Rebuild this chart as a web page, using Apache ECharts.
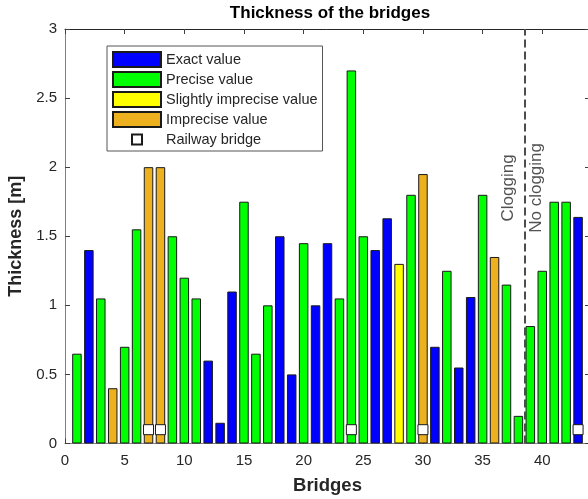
<!DOCTYPE html>
<html>
<head>
<meta charset="utf-8">
<script src="https://cdn.jsdelivr.net/npm/echarts@6/dist/echarts.min.js"></script>
<style>
  body { margin: 0; background: #fff; }
  #chart { width: 588px; height: 499px; }
</style>
</head>
<body>
<div id="chart"></div>
<script>
// bridge numbers and thickness [m] per class
const exactBridges = [2, 12, 13, 14, 18, 19, 21, 22, 26, 27, 31, 33, 34, 43];
const exactValues = [1.40, 0.60, 0.15, 1.10, 1.50, 0.50, 1.00, 1.45, 1.40, 1.63, 0.70, 0.55, 1.06, 1.64];

const preciseBridges = [1, 3, 5, 6, 9, 10, 11, 15, 16, 17, 20, 23, 24, 25, 29, 32, 35, 37, 38, 39, 40, 41, 42];
const preciseValues = [0.65, 1.05, 0.70, 1.55, 1.50, 1.20, 1.05, 1.75, 0.65, 1.00, 1.45, 1.05, 2.70, 1.50, 1.80, 1.25, 1.80, 1.15, 0.20, 0.85, 1.25, 1.75, 1.75];

const slightBridges = [28];
const slightValues = [1.30];

const impreciseBridges = [4, 7, 8, 30, 36];
const impreciseValues = [0.40, 2.00, 2.00, 1.95, 1.35];

const railwayBridges = [7, 8, 24, 30, 43];
const railwayMarkerLevel = 0.1;

const cloggingLimit = 38.5;
const annotations = [
  { name: 'Clogging', x: 37.15, y: 1.85 },
  { name: 'No clogging', x: 39.5, y: 1.85 }
];

const xTicks = { min: 0, max: 44, interval: 5 };
const yTicks = { min: 0, max: 3, interval: 0.5 };

const pairs = (xs, ys) => xs.map((x, i) => [x, ys[i]]);

const textColor = '#262626';
const barEdge = { borderColor: '#1a1a1a', borderWidth: 1 };
// ticks pointing into the plot (matlab style)
const innerTick = { show: true, inside: true, length: 5, lineStyle: { color: '#404040' } };

const barSeries = (name, xs, ys, color) => ({
  name,
  type: 'bar',
  barWidth: 9.5,
  barGap: '-100%',
  itemStyle: Object.assign({ color }, barEdge),
  data: pairs(xs, ys)
});

const chart = echarts.init(document.getElementById('chart'));

const option = {
  animation: false,
  textStyle: { fontFamily: '"Liberation Sans", Arial, sans-serif', color: textColor },
  title: {
    text: 'Thickness of the bridges',
    left: 330,
    top: 5,
    padding: 0,
    textAlign: 'center',
    textStyle: { fontSize: 17, fontWeight: 'bold', color: '#000' }
  },
  legend: {
    orient: 'vertical',
    left: 107,
    top: 46,
    padding: [5, 5, 3, 5],
    itemWidth: 48,
    itemHeight: 15,
    itemGap: 3,
    borderColor: '#555',
    borderWidth: 1,
    backgroundColor: '#fff',
    selectedMode: false,
    textStyle: { fontSize: 14.5, color: textColor },
    data: [
      { name: 'Exact value', icon: 'rect' },
      { name: 'Precise value', icon: 'rect' },
      { name: 'Slightly imprecise value', icon: 'rect' },
      { name: 'Imprecise value', icon: 'rect' },
      { name: 'Railway bridge', icon: 'path://M0,0M15,15M2.5,2.5h10v10h-10z' }
    ]
  },
  grid: { left: 65, right: -2, top: 29, bottom: 55.5, outerBoundsMode: 'none' },
  xAxis: [
    {
      type: 'value',
      min: xTicks.min,
      max: xTicks.max,
      interval: xTicks.interval,
      name: 'Bridges',
      nameLocation: 'middle',
      nameGap: 33,
      nameTextStyle: { fontSize: 18.5, fontWeight: 'bold', color: textColor },
      axisLine: { show: true, onZero: false, lineStyle: { color: '#808080', width: 1 } },
      axisTick: innerTick,
      axisLabel: { fontSize: 15, color: textColor, margin: 10, showMaxLabel: false },
      splitLine: { show: false }
    },
    {
      type: 'value',
      position: 'top',
      min: xTicks.min,
      max: xTicks.max,
      interval: xTicks.interval,
      axisLine: { show: true, onZero: false, lineStyle: { color: '#262626', width: 1 } },
      axisTick: innerTick,
      axisLabel: { show: false },
      splitLine: { show: false }
    }
  ],
  yAxis: [
    {
      type: 'value',
      min: yTicks.min,
      max: yTicks.max,
      interval: yTicks.interval,
      name: 'Thickness [m]',
      nameLocation: 'middle',
      nameGap: 37,
      nameTextStyle: { fontSize: 18, fontWeight: 'bold', color: textColor },
      axisLine: { show: true, onZero: false, lineStyle: { color: '#808080', width: 1 } },
      axisTick: innerTick,
      axisLabel: { fontSize: 15, color: textColor, margin: 8 },
      splitLine: { show: false }
    },
    {
      type: 'value',
      position: 'right',
      min: yTicks.min,
      max: yTicks.max,
      interval: yTicks.interval,
      axisLine: { show: false, onZero: false },
      axisTick: innerTick,
      axisLabel: { show: false },
      splitLine: { show: false }
    }
  ],
  series: [
    Object.assign(barSeries('Exact value', exactBridges, exactValues, '#0000ff'), {
      markLine: {
        silent: true,
        symbol: 'none',
        label: { show: false },
        lineStyle: { type: [8, 4], color: '#4d4d4d', width: 2 },
        data: [{ xAxis: cloggingLimit }]
      }
    }),
    barSeries('Precise value', preciseBridges, preciseValues, '#00ff00'),
    barSeries('Slightly imprecise value', slightBridges, slightValues, '#ffff00'),
    barSeries('Imprecise value', impreciseBridges, impreciseValues, '#edb120'),
    {
      name: 'Railway bridge',
      type: 'scatter',
      symbol: 'rect',
      symbolSize: 10,
      z: 5,
      itemStyle: { color: '#fff', borderColor: '#1a1a1a', borderWidth: 1, opacity: 1 },
      data: railwayBridges.map(x => [x, railwayMarkerLevel])
    },
    {
      name: 'annotations',
      type: 'scatter',
      symbolSize: 0,
      silent: true,
      label: {
        show: true,
        position: 'inside',
        rotate: 90,
        fontSize: 17,
        color: textColor,
        formatter: p => p.name
      },
      data: annotations.map(a => ({ name: a.name, value: [a.x, a.y] }))
    }
  ]
};

chart.setOption(option);
</script>
</body>
</html>
